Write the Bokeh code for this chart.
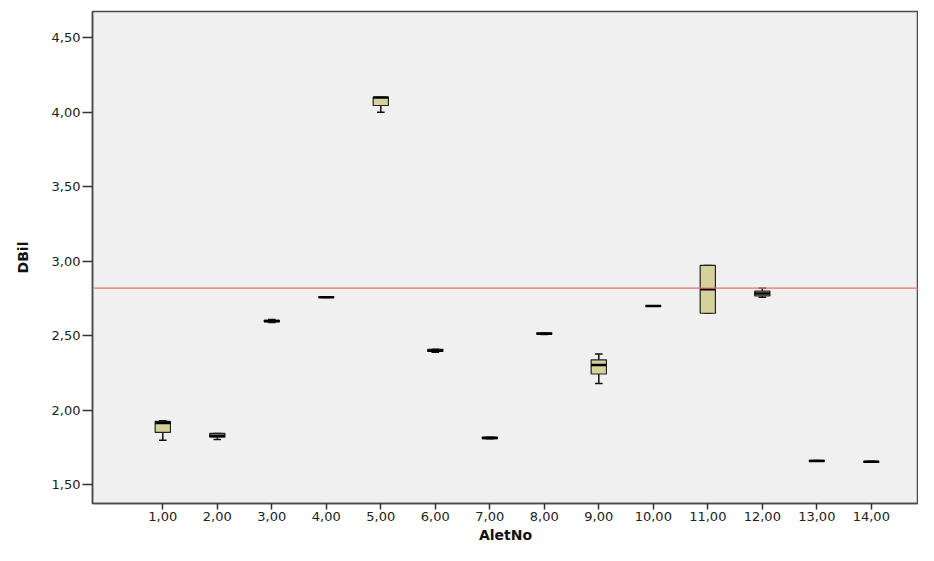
from bokeh.plotting import figure
from bokeh.models import ColumnDataSource, Span, FixedTicker, Range1d
from bokeh.embed import file_html
from bokeh.resources import INLINE

# ---- data ----
alet_no = [1, 2, 3, 4, 5, 6, 7, 8, 9, 10, 11, 12, 13, 14]
q_min = [1.80, 1.805, 2.59, 2.758, 4.00, 2.39, 1.81, 2.51, 2.18, 2.698, 2.652, 2.76, 1.658, 1.652]
q1 = [1.853, 1.82, 2.594, 2.758, 4.046, 2.395, 1.811, 2.512, 2.244, 2.698, 2.652, 2.768, 1.658, 1.652]
median = [1.915, 1.83, 2.60, 2.76, 4.10, 2.40, 1.815, 2.515, 2.304, 2.70, 2.813, 2.785, 1.661, 1.655]
q3 = [1.926, 1.845, 2.605, 2.762, 4.10, 2.41, 1.82, 2.52, 2.339, 2.702, 2.973, 2.80, 1.664, 1.658]
q_max = [1.93, 1.845, 2.61, 2.762, 4.10, 2.41, 1.82, 2.52, 2.378, 2.702, 2.973, 2.82, 1.664, 1.658]
mean_line = 2.82

y_ticks = [1.5, 2.0, 2.5, 3.0, 3.5, 4.0, 4.5]
y_tick_labels = ["1,50", "2,00", "2,50", "3,00", "3,50", "4,00", "4,50"]
x_tick_labels = ["1,00", "2,00", "3,00", "4,00", "5,00", "6,00", "7,00",
                 "8,00", "9,00", "10,00", "11,00", "12,00", "13,00", "14,00"]

BOX_W = 0.28
CAP_HALF = 0.07

src = ColumnDataSource(dict(
    x=alet_no, lo=q_min, q1=q1, med=median, q3=q3, hi=q_max,
    x_l=[v - BOX_W / 2 for v in alet_no], x_r=[v + BOX_W / 2 for v in alet_no],
    c_l=[v - CAP_HALF for v in alet_no], c_r=[v + CAP_HALF for v in alet_no],
))

p = figure(width=918, height=545, output_backend="svg", toolbar_location=None,
           title=None, x_range=Range1d(-0.29, 14.866), y_range=Range1d(1.375, 4.677),
           min_border_left=92, min_border_right=0, min_border_top=11, min_border_bottom=42)

p.background_fill_color = "#f0f0f0"
p.border_fill_color = "white"
p.outline_line_color = "#4a4a4a"
p.outline_line_width = 1.5
p.xgrid.visible = False
p.ygrid.visible = False

# whiskers
p.segment("x", "q3", "x", "hi", source=src, line_color="#111111", line_width=1.5)
p.segment("x", "lo", "x", "q1", source=src, line_color="#111111", line_width=1.5)
# caps
p.segment("c_l", "hi", "c_r", "hi", source=src, line_color="#111111", line_width=1.5)
p.segment("c_l", "lo", "c_r", "lo", source=src, line_color="#111111", line_width=1.5)
# boxes
p.vbar(x="x", width=BOX_W, top="q3", bottom="q1", source=src,
       fill_color="#d6d19b", line_color="#222222", line_width=1.2)
# medians
p.segment("x_l", "med", "x_r", "med", source=src, line_color="#000000", line_width=2.5)

p.add_layout(Span(location=mean_line, dimension="width", line_color="#e87070", line_width=1.2))

FONT = "DejaVu Sans"
for ax in (p.xaxis[0], p.yaxis[0]):
    ax.axis_line_color = "#4a4a4a"
    ax.axis_line_width = 1.5
    ax.major_tick_line_color = "#333333"
    ax.major_tick_line_width = 1.5
    ax.major_tick_in = 0
    ax.minor_tick_line_color = None
    ax.major_label_text_font = FONT
    ax.major_label_text_font_size = "13px"
    ax.major_label_text_color = "#222222"
    ax.axis_label_text_font = FONT
    ax.axis_label_text_font_style = "bold"
    ax.axis_label_text_font_size = "14px"
    ax.axis_label_text_color = "#111111"

p.yaxis.ticker = FixedTicker(ticks=y_ticks)
p.yaxis.major_label_overrides = {t: l for t, l in zip(y_ticks, y_tick_labels)}
p.yaxis.major_tick_out = 10
p.yaxis.major_label_standoff = 2
p.yaxis.axis_label = "DBil"
p.yaxis.axis_label_standoff = 18

p.xaxis.ticker = FixedTicker(ticks=alet_no)
p.xaxis.major_label_overrides = {t: l for t, l in zip(alet_no, x_tick_labels)}
p.xaxis.major_tick_out = 6
p.xaxis.major_label_standoff = 2
p.xaxis.axis_label = "AletNo"
p.xaxis.axis_label_standoff = 3

open("out.html", "w").write(file_html(p, INLINE))
